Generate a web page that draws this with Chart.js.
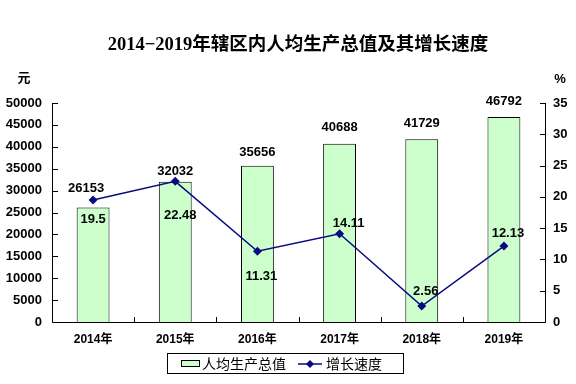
<!DOCTYPE html>
<html>
<head>
<meta charset="utf-8">
<script src="https://cdn.jsdelivr.net/npm/chart.js@4"></script>
<style>
html,body{margin:0;padding:0;background:#fff;}
#wrap{width:576px;height:384px;position:relative;}
</style>
</head>
<body>
<div id="wrap"><canvas id="c" width="576" height="384"></canvas></div>
<script>
const categories = ['2014年','2015年','2016年','2017年','2018年','2019年'];
const gdpPerCapita = [26153, 32032, 35656, 40688, 41729, 46792];
const growthRate = [19.5, 22.48, 11.31, 14.11, 2.56, 12.13];
const growthLabels = ['19.5','22.48','11.31','14.11','2.56','12.13'];
const leftTicks = [0,5000,10000,15000,20000,25000,30000,35000,40000,45000,50000];
const rightTicks = [0,5,10,15,20,25,30,35];
const titleText = '2014\u22122019年辖区内人均生产总值及其增长速度';
const seriesNames = ['人均生产总值','增长速度'];
const unitLeft = '元';
const unitRight = '%';

// label placement tweaks (style only)
const barLabelDx = [-7,0,0,0,0,0];
const barLabelDy = [-19,-10,-13,-16,-16,-16];
const lineLabelDx = [0,5,4,9,4,4];
const lineLabelDy = [19,34,25,-10,-15,-13];

const NUM_FONT = "bold 13px 'Liberation Sans', Arial, sans-serif";
const LINE_COLOR = '#0a0a80';

const decor = {
  id: 'decor',
  afterDatasetsDraw(chart) {
    const ctx = chart.ctx;
    const x = chart.scales.x, y = chart.scales.y, y2 = chart.scales.y2;
    const ca = chart.chartArea;
    ctx.save();
    // axes
    ctx.strokeStyle = '#000';
    ctx.lineWidth = 1;
    ctx.beginPath();
    ctx.moveTo(Math.round(ca.left)+0.5, ca.top);
    ctx.lineTo(Math.round(ca.left)+0.5, Math.round(ca.bottom)+0.5);
    ctx.lineTo(Math.round(ca.right)+0.5, Math.round(ca.bottom)+0.5);
    ctx.lineTo(Math.round(ca.right)+0.5, ca.top);
    ctx.stroke();
    // left ticks (inside)
    ctx.beginPath();
    leftTicks.forEach(v => {
      const py = Math.round(y.getPixelForValue(v)) + 0.5;
      ctx.moveTo(Math.round(ca.left)+0.5, py);
      ctx.lineTo(Math.round(ca.left)+6, py);
    });
    rightTicks.forEach(v => {
      const py = Math.round(y2.getPixelForValue(v)) + 0.5;
      ctx.moveTo(Math.round(ca.right)+0.5, py);
      ctx.lineTo(Math.round(ca.right)-5, py);
    });
    for (let i = 1; i < categories.length; i++) {
      const px = Math.round((x.getPixelForValue(i-1) + x.getPixelForValue(i)) / 2) + 0.5;
      ctx.moveTo(px, Math.round(ca.bottom)+0.5);
      ctx.lineTo(px, Math.round(ca.bottom)-5);
    }
    ctx.stroke();

    // bar labels
    ctx.fillStyle = '#000';
    ctx.font = NUM_FONT;
    ctx.textAlign = 'center';
    ctx.textBaseline = 'middle';
    const barMeta = chart.getDatasetMeta(0);
    barMeta.data.forEach((el, i) => {
      ctx.fillText(String(gdpPerCapita[i]), el.x + barLabelDx[i], el.y + barLabelDy[i]);
    });
    const lineMeta = chart.getDatasetMeta(1);
    lineMeta.data.forEach((el, i) => {
      ctx.fillText(growthLabels[i], el.x + lineLabelDx[i], el.y + lineLabelDy[i]);
    });

    // title
    ctx.font = "bold 18.5px 'Liberation Serif', 'Noto Sans CJK SC', serif";
    ctx.fillText(titleText, 298, 45);

    // units
    ctx.font = "bold 13px 'Liberation Sans', 'Noto Sans CJK SC', sans-serif";
    ctx.fillText(unitLeft, 24, 78);
    ctx.fillText(unitRight, 560, 79);

    // legend
    ctx.strokeStyle = '#000';
    ctx.lineWidth = 1;
    ctx.strokeRect(167.5, 353.5, 236, 20);
    ctx.fillStyle = '#ccffcc';
    ctx.fillRect(181.5, 360.5, 18, 6);
    ctx.strokeRect(181.5, 360.5, 18, 6);
    ctx.fillStyle = '#000';
    ctx.font = "14px 'Noto Sans CJK SC', sans-serif";
    ctx.textAlign = 'left';
    ctx.fillText(seriesNames[0], 202, 364);
    ctx.strokeStyle = LINE_COLOR;
    ctx.lineWidth = 1.5;
    ctx.beginPath();
    ctx.moveTo(298, 364); ctx.lineTo(322, 364);
    ctx.stroke();
    ctx.fillStyle = LINE_COLOR;
    ctx.beginPath();
    ctx.moveTo(310, 360); ctx.lineTo(314, 364); ctx.lineTo(310, 368); ctx.lineTo(306, 364);
    ctx.closePath(); ctx.fill();
    ctx.fillStyle = '#000';
    ctx.fillText(seriesNames[1], 326, 364);
    ctx.restore();
  }
};

new Chart(document.getElementById('c'), {
  data: {
    labels: categories,
    datasets: [
      {
        type: 'bar',
        label: seriesNames[0],
        data: gdpPerCapita,
        yAxisID: 'y',
        backgroundColor: '#ccffcc',
        borderColor: '#000',
        borderWidth: 1,
        barPercentage: 0.4,
        categoryPercentage: 1,
        order: 2
      },
      {
        type: 'line',
        label: seriesNames[1],
        data: growthRate,
        yAxisID: 'y2',
        borderColor: LINE_COLOR,
        backgroundColor: LINE_COLOR,
        borderWidth: 1.5,
        pointStyle: 'rectRot',
        pointRadius: 4.5,
        pointBorderWidth: 0,
        tension: 0,
        order: 1
      }
    ]
  },
  options: {
    responsive: false,
    animation: false,
    devicePixelRatio: 1,
    layout: { padding: { top: 103, left: 0, right: 0, bottom: 0 } },
    plugins: { legend: { display: false }, title: { display: false }, tooltip: { enabled: false } },
    scales: {
      x: {
        grid: { display: false, drawTicks: false },
        border: { display: false },
        ticks: { color: '#000', padding: 10, font: { family: "'Liberation Sans', 'Noto Sans CJK SC', sans-serif", size: 12, weight: 'bold' }, maxRotation: 0 },
        afterFit(s) { s.height = 62; }
      },
      y: {
        position: 'left',
        min: 0, max: 50000,
        afterBuildTicks(s) { s.ticks = leftTicks.map(v => ({ value: v })); },
        grid: { display: false, drawTicks: false },
        border: { display: false },
        ticks: { color: '#000', padding: 10, font: { family: "'Liberation Sans', Arial, sans-serif", size: 13, weight: 'bold' }, callback: v => String(v) },
        afterFit(s) { s.width = 52; }
      },
      y2: {
        position: 'right',
        min: 0, max: 35,
        afterBuildTicks(s) { s.ticks = rightTicks.map(v => ({ value: v })); },
        grid: { display: false, drawTicks: false },
        border: { display: false },
        ticks: { color: '#000', padding: 8, font: { family: "'Liberation Sans', Arial, sans-serif", size: 13, weight: 'bold' }, callback: v => String(v) },
        afterFit(s) { s.width = 31; }
      }
    }
  },
  plugins: [decor]
});
</script>
</body>
</html>
